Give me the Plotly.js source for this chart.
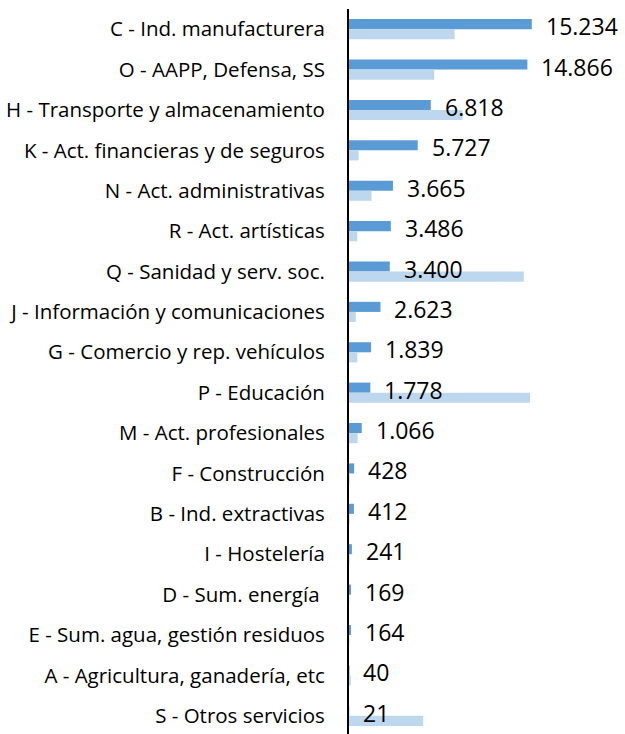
<!DOCTYPE html>
<html>
<head>
<meta charset="utf-8">
<script src="https://cdn.plot.ly/plotly-3.0.1.min.js"></script>
<style>
  html, body { margin: 0; padding: 0; background: #ffffff; }
  #chart { width: 625px; height: 734px; }
</style>
</head>
<body>
<div id="chart"></div>
<script>
// Sectores (eje vertical, de arriba abajo)
const sectores = [
  'C - Ind. manufacturera',
  'O - AAPP, Defensa, SS',
  'H - Transporte y almacenamiento',
  'K - Act. financieras y de seguros',
  'N - Act. administrativas',
  'R - Act. artísticas',
  'Q - Sanidad y serv. soc.',
  'J - Información y comunicaciones',
  'G - Comercio y rep. vehículos',
  'P - Educación',
  'M - Act. profesionales',
  'F - Construcción',
  'B - Ind. extractivas',
  'I - Hostelería',
  'D - Sum. energía ',
  'E - Sum. agua, gestión residuos',
  'A - Agricultura, ganadería, etc',
  'S - Otros servicios'
];

// Serie principal (barras oscuras, con etiqueta)
const valoresPrincipal = [15234, 14866, 6818, 5727, 3665, 3486, 3400, 2623, 1839, 1778, 1066, 428, 412, 241, 169, 164, 40, 21];

// Serie secundaria (barras claras, sin etiqueta) - estimada de la imagen
const valoresSecundaria = [8800, 7100, 9450, 800, 1880, 690, 14570, 560, 690, 15090, 720, 50, 40, 40, 20, 30, 150, 6190];

const COLOR_OSCURO = '#5B9BD5';
const COLOR_CLARO = '#BDD7EE';
const FUENTE = '"Open Sans", "Noto Sans", sans-serif';

// Formato con punto como separador de miles
function fmt(v) {
  return String(v).replace(/\B(?=(\d{3})+(?!\d))/g, '.');
}

const traceOscura = {
  type: 'bar',
  orientation: 'h',
  y: sectores,
  x: valoresPrincipal,
  marker: { color: COLOR_OSCURO },
  hoverinfo: 'skip'
};

const traceClara = {
  type: 'bar',
  orientation: 'h',
  y: sectores,
  x: valoresSecundaria,
  marker: { color: COLOR_CLARO },
  hoverinfo: 'skip'
};

// Etiquetas de datos al final de cada barra oscura
const etiquetas = sectores.map((s, i) => ({
  x: valoresPrincipal[i],
  y: s,
  xref: 'x',
  yref: 'y',
  text: fmt(valoresPrincipal[i]),
  showarrow: false,
  xanchor: 'left',
  yanchor: 'middle',
  xshift: 12,
  yshift: 3,
  font: { family: FUENTE, size: 23, color: '#000000' }
}));

const layout = {
  width: 625,
  height: 734,
  margin: { t: 9, r: 0, l: 349, b: 0 },
  barmode: 'group',
  bargap: 0.5,
  bargroupgap: 0,
  showlegend: false,
  paper_bgcolor: '#ffffff',
  plot_bgcolor: '#ffffff',
  xaxis: {
    range: [0, 23000],
    visible: false,
    fixedrange: true
  },
  yaxis: {
    type: 'category',
    range: [17.45, -0.5],
    showline: true,
    linecolor: '#000000',
    linewidth: 2,
    showgrid: false,
    zeroline: false,
    ticks: '',
    ticklabelstandoff: 18,
    tickfont: { family: FUENTE, size: 20.5, color: '#000000' },
    fixedrange: true
  },
  annotations: etiquetas
};

Plotly.newPlot('chart', [traceOscura, traceClara], layout, {
  displayModeBar: false,
  staticPlot: true
});
</script>
</body>
</html>
